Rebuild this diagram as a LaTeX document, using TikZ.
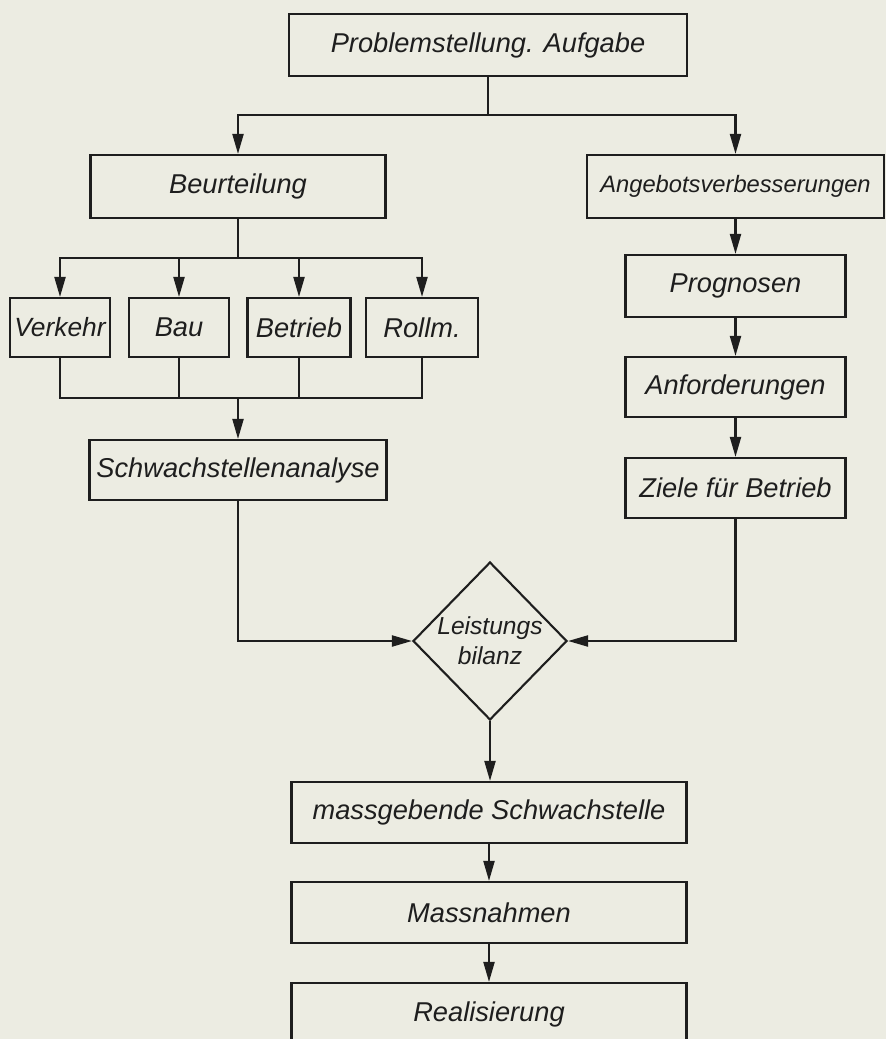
\documentclass[tikz,border=0pt]{standalone}
\usepackage{fontspec}
\setmainfont{Liberation Sans}
\usetikzlibrary{shapes.geometric,arrows.meta}
\definecolor{paper}{RGB}{236,236,226}
\definecolor{ink}{RGB}{30,30,30}

\begin{document}
\begin{tikzpicture}[
    color=ink, line width=1.2pt,
    box/.style={draw, rectangle, minimum height=1.22cm, inner sep=1pt,
      font=\fontsize{15.5}{18}\selectfont\itshape},
    arr/.style={-{Triangle[length=4mm,width=2.2mm]}},
  ]
    \fill[paper] (0,0) rectangle (17.72,-20.78);
    \useasboundingbox (0,0) rectangle (17.72,-20.78);

    \node[box, minimum width=7.96cm, minimum height=1.24cm] (prob) at (9.76,-0.9) {Problemstellung. Aufgabe};

    \node[box, minimum width=5.9cm, minimum height=1.26cm] (beurt) at (4.76,-3.73) {Beurteilung};
    \node[box, minimum width=5.94cm, minimum height=1.26cm, font=\fontsize{13.5}{16}\selectfont\itshape] (angeb) at (14.71,-3.73) {Angebotsverbesserungen};

    \node[box, minimum width=2.0cm, minimum height=1.18cm, font=\fontsize{15}{18}\selectfont\itshape] (verk) at (1.2,-6.55) {Verkehr};
    \node[box, minimum width=2.0cm, minimum height=1.18cm] (bau) at (3.58,-6.55) {Bau};
    \node[box, minimum width=2.06cm, minimum height=1.18cm] (betr) at (5.98,-6.55) {Betrieb};
    \node[box, minimum width=2.24cm, minimum height=1.18cm] (rollm) at (8.44,-6.55) {Rollm.};

    \node[box, minimum width=5.94cm, minimum height=1.2cm] (schwach) at (4.76,-9.4) {Schwachstellenanalyse};

    \node[box, minimum width=4.4cm, minimum height=1.24cm] (progn) at (14.71,-5.72) {Prognosen};
    \node[box, minimum width=4.4cm, minimum height=1.2cm] (anford) at (14.71,-7.74) {Anforderungen};
    \node[box, minimum width=4.4cm, minimum height=1.2cm] (ziele) at (14.71,-9.76) {Ziele für Betrieb};

    \node[draw, diamond, minimum width=3.08cm, minimum height=3.16cm, inner sep=0pt, align=center,
      font=\fontsize{14}{17}\selectfont\itshape] (bilanz) at (9.8,-12.82) {Leistungs\\bilanz};

    \node[box, minimum width=7.9cm] (massg) at (9.78,-16.25) {massgebende Schwachstelle};
    \node[box, minimum width=7.9cm] (massn) at (9.78,-18.25) {Massnahmen};
    \node[box, minimum width=7.9cm, minimum height=1.24cm] (real) at (9.78,-20.28) {Realisierung};

    \coordinate (ptop) at (9.76,-2.3);
    \coordinate (bsplit) at (4.76,-5.16);
    \coordinate (bjoin) at (4.76,-7.96);

    \draw (prob.south) -- (ptop);
    \draw[arr] (ptop) -| (beurt.north);
    \draw[arr] (ptop) -| (angeb.north);

    \draw (beurt.south) -- (bsplit);
    \foreach \n in {verk,bau,betr,rollm}
      \draw[arr] (bsplit) -| (\n.north);
    \foreach \n in {verk,bau,betr,rollm}
      \draw (\n.south) |- (bjoin);
    \draw[arr] (bjoin) -- (schwach.north);

    \draw[arr] (angeb.south) -- (progn.north);
    \draw[arr] (progn.south) -- (anford.north);
    \draw[arr] (anford.south) -- (ziele.north);

    \draw[arr] (schwach.south) |- (bilanz.west);
    \draw[arr] (ziele.south) |- (bilanz.east);

    \draw[arr] (bilanz.south) -- (massg.north -| bilanz.south);
    \draw[arr] (massg.south) -- (massn.north);
    \draw[arr] (massn.south) -- (real.north);
  \end{tikzpicture}
\end{document}
